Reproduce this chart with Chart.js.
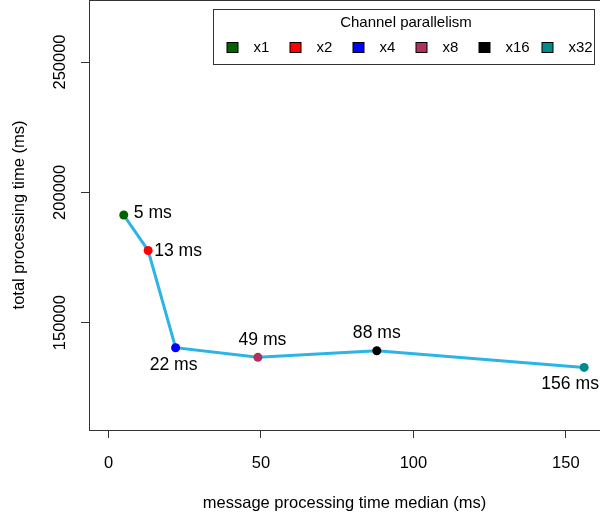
<!DOCTYPE html>
<html><head><meta charset="utf-8">
<script src="https://cdn.jsdelivr.net/npm/chart.js@4/dist/chart.umd.min.js"></script>
<style>html,body{margin:0;padding:0;background:#fff;}canvas{display:block;}</style>
</head><body>
<canvas id="c" width="600" height="517"></canvas>
<script>
// ---- data ----
const parallelism = ['x1', 'x2', 'x4', 'x8', 'x16', 'x32'];
const medianMs = [5, 13, 22, 49, 88, 156];
const totalMs = [191300, 177700, 140400, 136700, 139250, 132850];
const pointLabels = ['5 ms', '13 ms', '22 ms', '49 ms', '88 ms', '156 ms'];
const xTicks = [0, 50, 100, 150];
const yTicks = [150000, 200000, 250000];
const legendTitle = 'Channel parallelism';

// ---- styles ----
const pointColors = ['#006400', '#FF0000', '#0000FF', '#B03060', '#000000', '#008B8B'];
const lineColor = '#2DB4E6';
const FONT = '"Liberation Sans", Arial, Helvetica, sans-serif';
const axisColor = '#333';
// label placement relative to point: [textAlign, dx, dy]
const labelPlacement = [['left', 10, -1.5], ['left', 6, 0.5], ['center', -2, 17], ['center', 4.5, -17], ['center', 0, -17.5], ['center', -14, 16.5]];

Chart.defaults.font.family = FONT;
Chart.defaults.color = '#000';

function zeroPad(s) { s.paddingTop = 0; s.paddingBottom = 0; s.paddingLeft = 0; s.paddingRight = 0; }

const boxPlugin = {
  id: 'boxTop',
  afterDraw(chart) {
    const {ctx, chartArea} = chart;
    ctx.save();
    ctx.strokeStyle = axisColor;
    ctx.lineWidth = 1;
    ctx.beginPath();
    ctx.moveTo(chartArea.left, chartArea.top + 0.5);
    ctx.lineTo(chartArea.right, chartArea.top + 0.5);
    ctx.stroke();
    ctx.restore();
  }
};

const labelPlugin = {
  id: 'pointLabels',
  afterDatasetsDraw(chart) {
    const {ctx} = chart;
    const meta = chart.getDatasetMeta(0);
    ctx.save();
    ctx.font = '17.6px ' + FONT;
    ctx.fillStyle = '#000';
    ctx.textBaseline = 'middle';
    meta.data.forEach((el, i) => {
      const [align, dx, dy] = labelPlacement[i];
      ctx.textAlign = align;
      ctx.fillText(pointLabels[i], el.x + dx, el.y + dy);
    });
    ctx.restore();
  }
};

const legendPlugin = {
  id: 'boxLegend',
  afterDraw(chart) {
    const {ctx} = chart;
    const L = 213.5, T = 9.5, W = 381, H = 55;
    ctx.save();
    ctx.fillStyle = '#fff';
    ctx.fillRect(L, T, W, H);
    ctx.strokeStyle = axisColor;
    ctx.lineWidth = 1;
    ctx.strokeRect(L, T, W, H);
    ctx.font = '15px ' + FONT;
    ctx.fillStyle = '#000';
    ctx.textBaseline = 'middle';
    ctx.textAlign = 'center';
    ctx.fillText(legendTitle, L + W / 2 + 2, T + 13.5);
    ctx.textAlign = 'left';
    parallelism.forEach((name, i) => {
      const cx = 232.5 + i * 63;
      const cy = 47.5;
      ctx.fillStyle = pointColors[i];
      ctx.fillRect(cx - 5.5, cy - 5, 11, 10);
      ctx.strokeStyle = '#000';
      ctx.strokeRect(cx - 5.5, cy - 5, 11, 10);
      ctx.fillStyle = '#000';
      ctx.fillText(name, cx + 21, cy + 0.5);
    });
    ctx.restore();
  }
};

new Chart(document.getElementById('c').getContext('2d'), {
  type: 'scatter',
  data: {
    datasets: [{
      label: legendTitle,
      data: medianMs.map((x, i) => ({x: x, y: totalMs[i]})),
      showLine: true,
      borderColor: lineColor,
      borderWidth: 3,
      tension: 0,
      pointRadius: 4.5,
      pointHoverRadius: 4.5,
      pointBackgroundColor: pointColors,
      pointBorderWidth: 0
    }]
  },
  options: {
    responsive: false,
    devicePixelRatio: 1,
    animation: false,
    events: [],
    layout: {padding: 0, autoPadding: false},
    plugins: {legend: {display: false}, tooltip: {enabled: false}},
    scales: {
      x: {
        type: 'linear', position: 'bottom', min: -6.4, max: 161.2,
        afterBuildTicks: s => { s.ticks = xTicks.map(v => ({value: v})); },
        afterFit: s => { s.height = 87; zeroPad(s); },
        grid: {drawOnChartArea: false, drawTicks: true, tickLength: 8, color: axisColor, lineWidth: 1},
        border: {display: true, color: axisColor, width: 1},
        ticks: {font: {size: 16.5}, padding: 15.5, color: '#000', maxRotation: 0, autoSkip: false, callback: v => String(v)},
        title: {display: true, text: 'message processing time median (ms)', font: {size: 16.5}, color: '#000', padding: {top: 0, bottom: 4}}
      },
      y: {
        type: 'linear', position: 'left', min: 108836, max: 273786,
        afterBuildTicks: s => { s.ticks = yTicks.map(v => ({value: v})); },
        afterFit: s => { s.width = 89; zeroPad(s); },
        grid: {drawOnChartArea: false, drawTicks: true, tickLength: 8, color: axisColor, lineWidth: 1},
        border: {display: true, color: axisColor, width: 1},
        ticks: {font: {size: 16.5}, padding: -7, color: '#000', minRotation: 90, maxRotation: 90, crossAlign: 'center', autoSkip: false, callback: v => String(v)},
        title: {display: true, text: 'total processing time (ms)', font: {size: 16.5}, color: '#000', padding: {top: 10, bottom: 0}}
      }
    }
  },
  plugins: [boxPlugin, labelPlugin, legendPlugin]
});
</script>
</body></html>
